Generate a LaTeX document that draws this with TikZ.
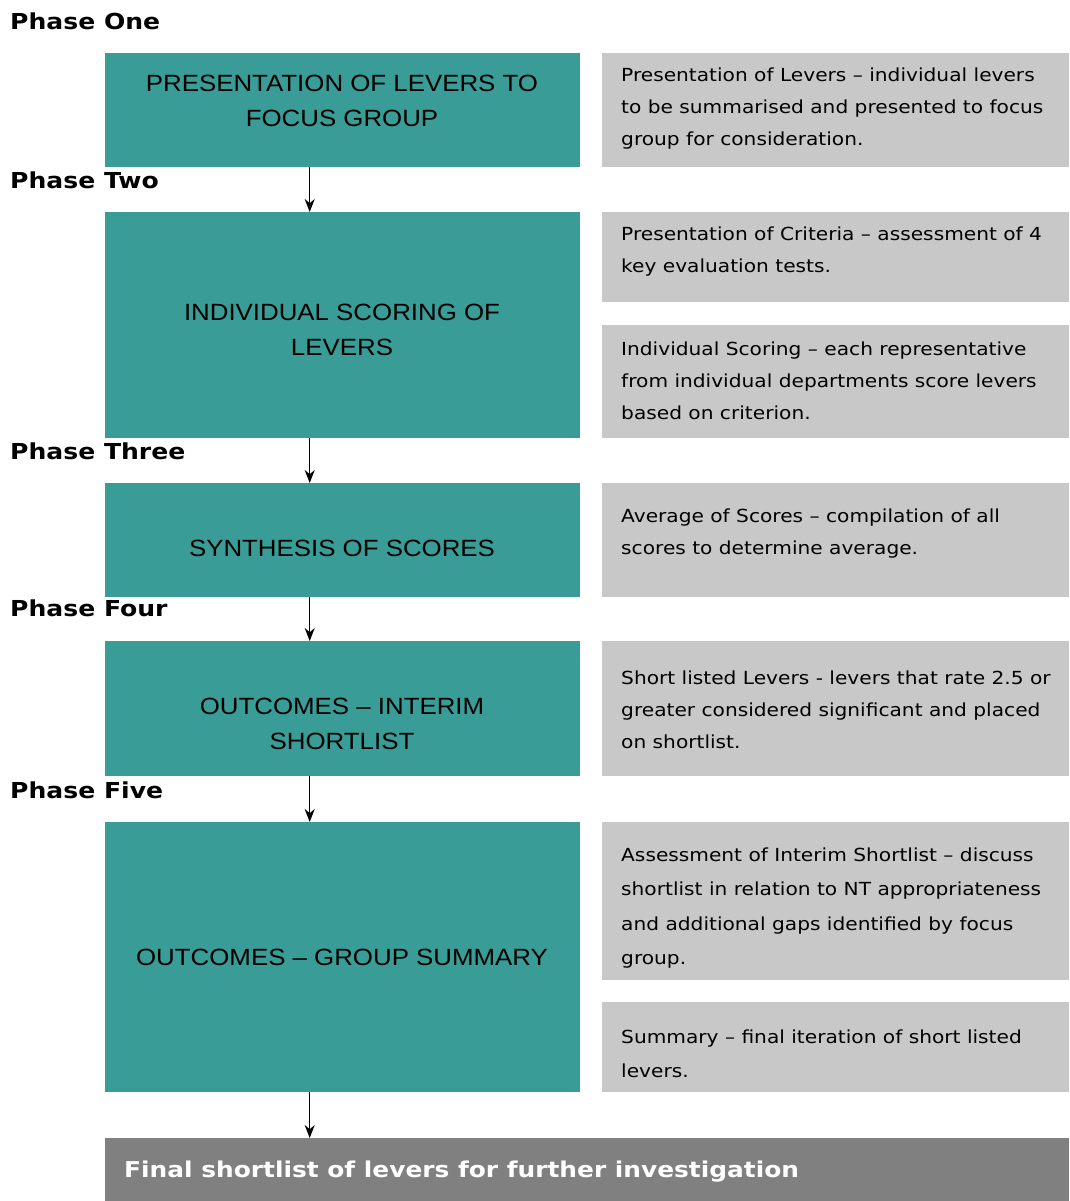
\documentclass[tikz,border=0pt]{standalone}
\usepackage{fontspec}
\setmainfont{DejaVu Sans}[FakeStretch=1.12]
\newfontfamily\arialf{Liberation Sans}[FakeStretch=1.1]
\newfontfamily\verdb{DejaVu Sans Bold}[FakeStretch=1.14]
\usetikzlibrary{arrows.meta}
\definecolor{tealfill}{RGB}{58,156,150}
\definecolor{graybox}{RGB}{200,200,200}
\definecolor{finalbox}{RGB}{128,128,128}
\begin{document}
\begin{tikzpicture}[x=1pt,y=-1pt,
  tealbox/.style={fill=tealfill,inner sep=0pt,minimum width=475pt,anchor=north west},
  graybx/.style={fill=graybox,inner sep=0pt,minimum width=467pt,anchor=north west},
  tealtext/.style={font=\arialf\fontsize{23.5}{35}\selectfont,align=center,inner sep=0pt},
  graytext/.style={font=\fontsize{18}{32}\selectfont,align=left,inner sep=0pt,anchor=west},
  phaselabel/.style={font=\verdb\fontsize{22}{28}\selectfont,inner sep=0pt,anchor=base west},
  flowarrow/.style={line width=1.5pt,-{Stealth[length=13pt,width=10pt]}}]
\useasboundingbox (0,0) rectangle (1069,1201);
% Phase labels
\node[phaselabel] (p1) at (10,30) {Phase One};
\node[phaselabel] (p2) at (10,189) {Phase Two};
\node[phaselabel] (p3) at (10,459) {Phase Three};
\node[phaselabel] (p4) at (10,616) {Phase Four};
\node[phaselabel] (p5) at (10,798) {Phase Five};
% teal boxes
\node[tealbox,minimum height=114pt] (b1) at (105,53) {};
\node[tealbox,minimum height=226pt] (b2) at (105,212) {};
\node[tealbox,minimum height=114pt] (b3) at (105,483) {};
\node[tealbox,minimum height=135pt] (b4) at (105,641) {};
\node[tealbox,minimum height=270pt] (b5) at (105,822) {};
\node[tealtext] (t1) at (342,101) {PRESENTATION OF LEVERS TO\\FOCUS GROUP};
\node[tealtext] (t2) at (342,330) {INDIVIDUAL SCORING OF\\LEVERS};
\node[tealtext] (t3) at (342,548) {SYNTHESIS OF SCORES};
\node[tealtext] (t4) at (342,724) {OUTCOMES – INTERIM\\SHORTLIST};
\node[tealtext] (t5) at (342,957) {OUTCOMES – GROUP SUMMARY};
% gray boxes
\node[graybx,minimum height=114pt] (g1) at (602,53) {};
\node[graybx,minimum height=90pt] (g2a) at (602,212) {};
\node[graybx,minimum height=113pt] (g2b) at (602,325) {};
\node[graybx,minimum height=114pt] (g3) at (602,483) {};
\node[graybx,minimum height=135pt] (g4) at (602,641) {};
\node[graybx,minimum height=158pt] (g5a) at (602,822) {};
\node[graybx,minimum height=90pt] (g5b) at (602,1002) {};
\node[graytext] (s1) at (621,109) {Presentation of Levers – individual levers\\to be summarised and presented to focus\\group for consideration.};
\node[graytext] (s2a) at (621,252) {Presentation of Criteria – assessment of 4\\key evaluation tests.};
\node[graytext] (s2b) at (621,381) {Individual Scoring – each representative\\from individual departments score levers\\based on criterion.};
\node[graytext] (s3) at (621,534) {Average of Scores – compilation of all\\scores to determine average.};
\node[graytext] (s4) at (621,710) {Short listed Levers - levers that rate 2.5 or\\greater considered significant and placed\\on shortlist.};
\node[graytext,font=\fontsize{18}{34.5}\selectfont] (s5a) at (621,908) {Assessment of Interim Shortlist – discuss\\shortlist in relation to NT appropriateness\\and additional gaps identified by focus\\group.};
\node[graytext,font=\fontsize{18}{34}\selectfont] (s5b) at (621,1054) {Summary – final iteration of short listed\\levers.};
% final box
\node[fill=finalbox,inner sep=0pt,minimum width=964pt,minimum height=63pt,anchor=north west] (fin) at (105,1138) {};
\node[font=\verdb\fontsize{21.8}{24}\selectfont,text=white,inner sep=0pt,anchor=base west] (fint) at (124,1177) {Final shortlist of levers for further investigation};
% arrows
\draw[flowarrow] ([xshift=-33pt]b1.south) -- ([xshift=-33pt]b2.north);
\draw[flowarrow] ([xshift=-33pt]b2.south) -- ([xshift=-33pt]b3.north);
\draw[flowarrow] ([xshift=-33pt]b3.south) -- ([xshift=-33pt]b4.north);
\draw[flowarrow] ([xshift=-33pt]b4.south) -- ([xshift=-33pt]b5.north);
\draw[flowarrow] ([xshift=-33pt]b5.south) -- ([xshift=-33pt]b5.south |- fin.north);
\end{tikzpicture}
\end{document}
